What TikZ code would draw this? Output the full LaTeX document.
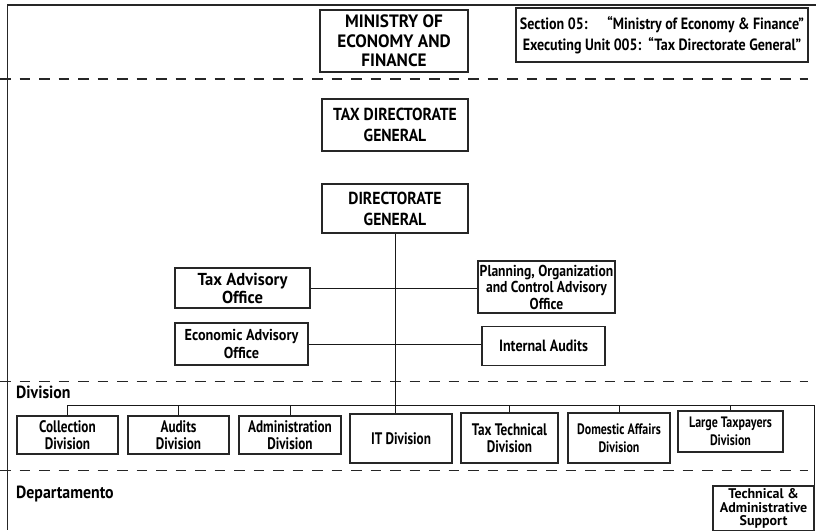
\documentclass[tikz,border=0pt]{standalone}
\usepackage{fontspec}
\setmainfont{PT Sans}
% condensed cuts of the same family, one per text width
\newfontfamily\fWide{PT Sans}[FakeStretch=1.0]
\newfontfamily\fNinetySix{PT Sans}[FakeStretch=0.96]
\newfontfamily\fNinety{PT Sans}[FakeStretch=0.90]
\newfontfamily\fEightySix{PT Sans}[FakeStretch=0.86]
\newfontfamily\fSeventyNine{PT Sans}[FakeStretch=0.79]
\tikzset{
  frameline/.style={line width=1.1pt, draw=black!85},
  sepline/.style={line width=1.2pt, draw=black!85, dash pattern=on 10.5pt off 9pt},
  box/.style={draw=black!85, line width=1.2pt, inner sep=0pt, align=center},
  wire/.style={line width=0.9pt, draw=black!90},
  head/.style={font={\fNinetySix\bfseries\fontsize{17.9}{19.5}\selectfont}},
  dirtxt/.style={font={\fNinety\bfseries\fontsize{17.4}{21}\selectfont}},
  sectxt/.style={font={\fEightySix\bfseries\fontsize{16.3}{20.5}\selectfont}},
  taotxt/.style={font={\fNinetySix\bfseries\fontsize{17.3}{18}\selectfont}},
  eaotxt/.style={font={\fNinety\bfseries\fontsize{15.8}{18}\selectfont}},
  plantxt/.style={font={\fEightySix\bfseries\fontsize{15.8}{16.5}\selectfont}},
  iatxt/.style={font={\fEightySix\bfseries\fontsize{16.3}{18}\selectfont}},
  divtxt/.style={font={\fSeventyNine\bfseries\fontsize{16.7}{17}\selectfont}},
  divsmall/.style={font={\fSeventyNine\bfseries\fontsize{15.1}{18}\selectfont}},
  techtxt/.style={font={\fWide\bfseries\fontsize{14}{13.5}\selectfont}},
  lbl/.style={inner sep=0pt, anchor=base west, font={\fNinety\bfseries\fontsize{17.6}{18}\selectfont}}
}
\begin{document}
\begin{tikzpicture}[x=1pt,y=-1pt]
\useasboundingbox (0,0) rectangle (816,530);

% outer frame and level separators
\draw[frameline] (816,5) -- (7.5,5) -- (7.5,530);
\draw[sepline] (0,79) -- (808,79);
\draw[sepline] (0,381.5) -- (808,381.5);
\draw[sepline] (0,470.5) -- (808,470.5);

% top level
\node[box, head, minimum width=148pt, minimum height=62pt] (min) at (394,41)
  {MINISTRY OF\\ECONOMY AND\\FINANCE};
\node[box, sectxt, minimum width=292pt, minimum height=54pt] (sec) at (662,35)
  {Section 05:\quad\ “Ministry of Economy \& Finance”\\Executing Unit 005:\ \ “Tax Directorate General”};

% directorate
\node[box, dirtxt, minimum width=146pt, minimum height=52pt] (tdg) at (395,125)
  {TAX DIRECTORATE\\GENERAL};
\node[box, dirtxt, minimum width=146pt, minimum height=49pt] (dg) at (395,208.5)
  {DIRECTORATE\\GENERAL};

% advisory offices
\node[box, taotxt, minimum width=135pt, minimum height=40pt] (tao) at (242.5,288)
  {Tax Advisory\\Office};
\node[box, plantxt, minimum width=137pt, minimum height=52pt] (plan) at (546.5,287)
  {Planning, Organization\\and Control Advisory\\Office};
\node[box, eaotxt, minimum width=133pt, minimum height=42pt] (eao) at (241.5,344)
  {Economic Advisory\\Office};
\node[box, iatxt, minimum width=123pt, minimum height=39pt] (ia) at (543.5,346)
  {Internal Audits};

% divisions
\node[box, divtxt, minimum width=101pt, minimum height=38pt] (coll) at (67.5,435) {Collection\\Division};
\node[box, divtxt, minimum width=101pt, minimum height=38pt] (aud) at (178.5,435) {Audits\\Division};
\node[box, divtxt, minimum width=102pt, minimum height=38pt] (adm) at (290,435) {Administration\\Division};
\node[box, divtxt, minimum width=102pt, minimum height=49pt] (it) at (401,438.5) {IT Division};
\node[box, divtxt, minimum width=97pt, minimum height=50pt] (tt) at (509.5,438) {Tax Technical\\Division};
\node[box, divsmall, minimum width=102pt, minimum height=50pt] (dom) at (619,438) {Domestic Affairs\\Division};
\node[box, divsmall, minimum width=105pt, minimum height=41pt] (lt) at (730.5,431.5) {Large Taxpayers\\Division};

% department level
\node[box, techtxt, minimum width=101pt, minimum height=45pt] (tech) at (763.5,508.5)
  {Technical \&\\Administrative\\Support};

% level labels
\node[lbl] (divlbl) at (16,398) {Division};
\node[lbl] (deplbl) at (16,498) {Departamento};

% connectors
\coordinate (bus) at (0,405);
\draw[wire] (dg.south) -- (dg.south |- it.north);
\draw[wire] (tao.east) -- (plan.west |- tao.east);
\draw[wire] (eao.east) -- (ia.west |- eao.east);
\draw[wire] (coll.north |- bus) -- (tech.north east |- bus) -- (tech.north east);
\foreach \n in {coll,aud,adm,tt,dom,lt}
  \draw[wire] (\n.north) -- (\n.north |- bus);
\end{tikzpicture}
\end{document}
